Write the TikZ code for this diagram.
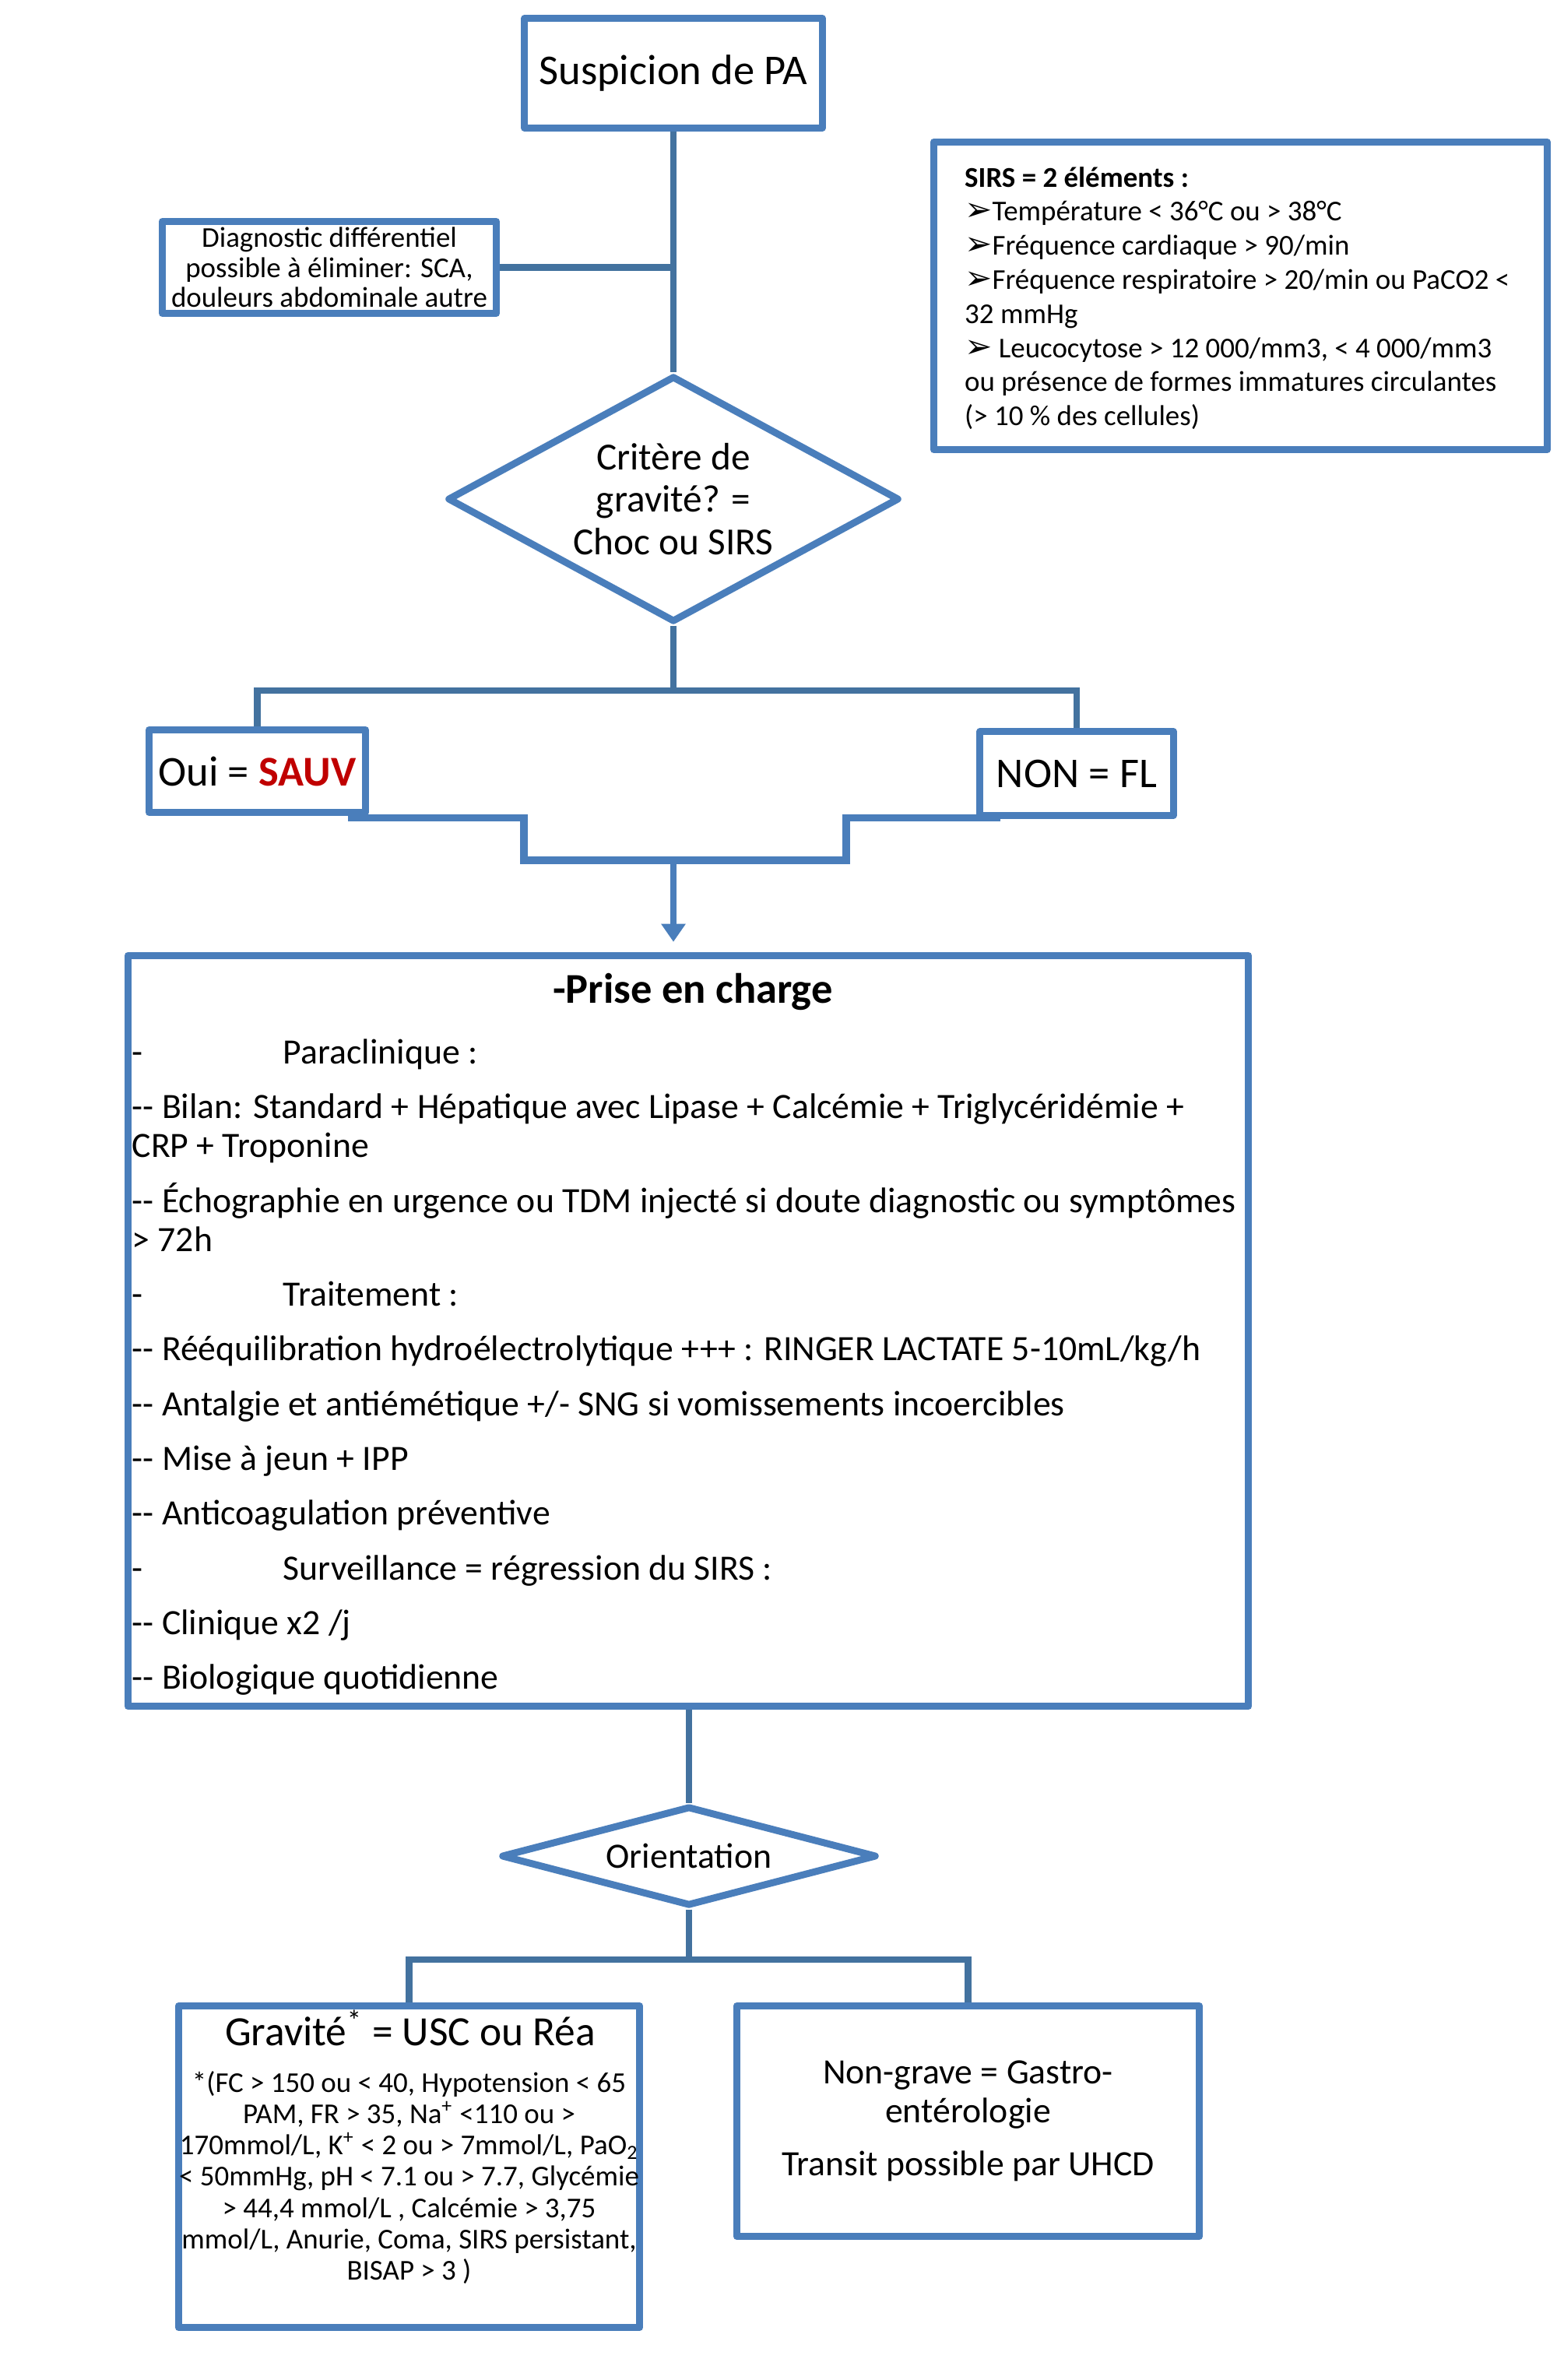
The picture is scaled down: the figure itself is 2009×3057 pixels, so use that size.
\documentclass[tikz,border=0pt]{standalone}
\usepackage{fontspec}
\setmainfont{Carlito}
\newfontfamily\dingfont{DejaVu Sans}
\usetikzlibrary{arrows.meta, shapes.geometric, positioning}

\definecolor{bleucadre}{HTML}{4A7EBB}
\definecolor{bleulien}{HTML}{43729F}
\definecolor{rougesauv}{HTML}{C00000}

\newcommand{\taille}[2]{\fontsize{#1}{#2}\selectfont}
\newcommand{\puce}{{\dingfont\fontsize{12}{12}\selectfont ➢}}

\begin{document}
\begin{tikzpicture}[
x=0.01cm, y=-0.01cm,
boite/.style={
draw=bleucadre,
line width=2.55pt,
line join=round,
fill=white,
align=center,
inner sep=0 pt,
},
losange/.style={boite, diamond},
texte/.style={inner sep=0 pt},
lien/.style={draw=bleulien, line width=2.3pt},
marche/.style={draw=bleucadre, line width=2.8pt},
fleche/.style={draw=bleucadre, line width=2.3pt, -{Triangle[width=0.3cm, length=0.23cm]}},
]
\fill[white] (0,0) rectangle (2009,3057);
\useasboundingbox (0,0) rectangle (2009,3057);

% top: suspicion, differential, SIRS
\node [boite, minimum width=3.82cm, minimum height=1.41cm, font=\taille{15.5}{18.6}]
at (865,94) (pa) {Suspicion de PA};
\node [boite, minimum width=4.29cm, minimum height=1.18cm, font=\taille{10.5}{11}]
at (423,343.5) (diag) {Diagnostic différentiel\\possible à éliminer: SCA,\\douleurs abdominale autre};
\node [boite, minimum width=7.88cm, minimum height=3.95cm]
at (1593.5,380) (sirs) {};
\node [texte, anchor=west, align=left, font=\taille{10.5}{12.45}]
at (1238.5,383) (sirstexte) {\textbf{SIRS = 2 éléments :}\\
\puce Température < 36°C ou > 38°C\\
\puce Fréquence cardiaque > 90/min\\
\puce Fréquence respiratoire > 20/min ou PaCO2 <\\
32 mmHg\\
\puce\ Leucocytose > 12 000/mm3, < 4 000/mm3\\
ou présence de formes immatures circulantes\\
(> 10 \% des cellules)};

% severity test
\node [losange, aspect=1.84, minimum width=5.80cm, minimum height=3.16cm, font=\taille{14}{15.6}]
at (865,641) (gravite) {Critère de\\gravité? =\\Choc ou SIRS};

\node [boite, minimum width=2.78cm, minimum height=1.06cm, font=\taille{15.5}{18.6}]
at (330.5,990.5) (oui) {Oui = \textcolor{rougesauv}{\textbf{SAUV}}};
\node [boite, minimum width=2.48cm, minimum height=1.08cm, font=\taille{15.5}{18.6}]
at (1383,993.5) (non) {NON = FL};

% management
\node [boite, minimum width=14.39cm, minimum height=9.64cm]
at (884,1709.5) (prise) {};
\node [texte, font=\bfseries\taille{15.5}{18.6}] at (890,1274) (prisetitre) {-Prise en charge};
\node [texte, anchor=north west, align=left, font=\taille{13}{14.2}]
at (169,1334) (prisetexte) {\makebox[1.94cm][l]{-}Paraclinique :\\[5.8pt]
-{}- Bilan: Standard + Hépatique avec Lipase + Calcémie + Triglycéridémie +\\
CRP + Troponine\\[5.8pt]
-{}- Échographie en urgence ou TDM injecté si doute diagnostic ou symptômes\\
> 72h\\[5.8pt]
\makebox[1.94cm][l]{-}Traitement :\\[5.8pt]
-{}- Rééquilibration hydroélectrolytique +++ : RINGER LACTATE 5-10mL/kg/h\\[5.8pt]
-{}- Antalgie et antiémétique +/- SNG si vomissements incoercibles\\[5.8pt]
-{}- Mise à jeun + IPP\\[5.8pt]
-{}- Anticoagulation préventive\\[5.8pt]
\makebox[1.94cm][l]{-}Surveillance = régression du SIRS :\\[5.8pt]
-{}- Clinique x2 /j\\[5.8pt]
-{}- Biologique quotidienne};

% orientation
\node [losange, aspect=3.6, minimum width=4.82cm, minimum height=1.28cm, font=\taille{13}{15.6}]
at (885,2384) (orient) {Orientation};

\node [boite, minimum width=5.92cm, minimum height=4.13cm]
at (525.5,2783) (grav) {};
\node [texte, font=\taille{15.2}{18}] at (527,2605) (gravtitre) {Gravité\textsuperscript{*} = USC ou Réa};
\node [texte, align=center, font=\taille{10.5}{11.4}] at (525.5,2797) (gravdetail)
{*(FC > 150 ou < 40, Hypotension < 65\\
PAM, FR > 35, Na\textsuperscript{+} <110 ou >\\
170mmol/L, K\textsuperscript{+} < 2 ou > 7mmol/L, PaO\textsubscript{2}\\
< 50mmHg, pH < 7.1 ou > 7.7, Glycémie\\
> 44,4 mmol/L , Calcémie > 3,75\\
mmol/L, Anurie, Coma, SIRS persistant,\\
BISAP > 3 )};
\node [boite, minimum width=5.94cm, minimum height=2.96cm, font=\taille{13}{14.2}]
at (1243.5,2724.5) (nongrave) {Non-grave = Gastro-\\entérologie\\[5pt]Transit possible par UHCD};

% connectors
\draw[lien] (pa) -- (gravite);
\draw[lien] (diag.east) -- (diag.east -| pa.south);

\draw[lien] (gravite.south) -- ++(0,83) coordinate (embr);
\draw[lien] (oui.north) |- (embr) -| (non.north);

\coordinate (ouisortie) at ([xshift=-0.275cm, yshift=-0.025cm]oui.south east);
\coordinate (nonsortie) at ([xshift=0.31cm, yshift=0.015cm]non.south west);
\coordinate (jonction) at (865,1105);
\draw[marche] (ouisortie) -| ([xshift=-1.92cm]jonction)
-- ([xshift=2.22cm]jonction) |- (nonsortie);
\draw[fleche, shorten >=0.13cm] (jonction) -- (prise.north -| jonction);

\draw[lien] (prise.south -| orient.north) -- (orient.north);
\draw[lien] (orient.south) -- ++(0,64) coordinate (embr2);
\draw[lien] (grav.north) |- (embr2) -| (nongrave.north);

\end{tikzpicture}
\end{document}
